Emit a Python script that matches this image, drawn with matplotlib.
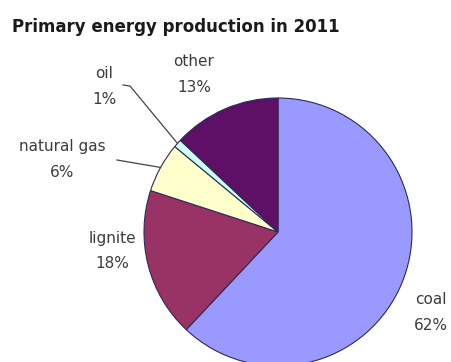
import numpy as np
import matplotlib
matplotlib.use('Agg')
import matplotlib.pyplot as plt

# data
sources = ['coal', 'lignite', 'natural gas', 'oil', 'other']
shares = [62, 18, 6, 1, 13]
colors = ['#9999ff', '#993366', '#ffffcc', '#ccffff', '#5e1066']

W, H = 452, 362


def py(y):
    # pixel row -> data y (axes spans the whole figure)
    return H - y


fig = plt.figure(figsize=(W / 100, H / 100), dpi=100)
ax = fig.add_axes([0, 0, 1, 1])

cx, cy, r = 278, 232, 134
wedges, _ = ax.pie(shares, colors=colors, startangle=90, counterclock=False,
                   center=(cx, py(cy)), radius=r,
                   wedgeprops=dict(edgecolor='#2e2a55', linewidth=0.8))
ax.set_xlim(0, W)
ax.set_ylim(0, H)
ax.set_aspect('equal')
ax.axis('off')

fig.text(12 / W, 1 - 27 / H, 'Primary energy production in 2011',
         fontsize=12, fontweight='bold', color='#1a1a1a', va='center', ha='left')

# label positions (pixel coords of the name line)
label_pos = {'coal': (431, 300), 'lignite': (112, 238), 'natural gas': (62, 147),
             'oil': (104, 73), 'other': (194, 61)}
for name, val in zip(sources, shares):
    x, y = label_pos[name]
    ax.text(x, py(y), name, ha='center', va='center', fontsize=11, color='#3c3c3c')
    ax.text(x, py(y + 26), f'{val}%', ha='center', va='center', fontsize=11, color='#3c3c3c')


def edge_point(w):
    t = np.deg2rad((w.theta1 + w.theta2) / 2)
    return cx + r * np.cos(t), py(cy) + r * np.sin(t)


# leader lines for the two thin slices
ex, ey = edge_point(wedges[3])
ax.plot([123, 130, ex], [py(85), py(86), ey], color='#444444', linewidth=0.9)
ex, ey = edge_point(wedges[2])
ax.plot([117, ex], [py(160), ey], color='#444444', linewidth=0.9)

fig.savefig('out.png', dpi=100, facecolor='white')
